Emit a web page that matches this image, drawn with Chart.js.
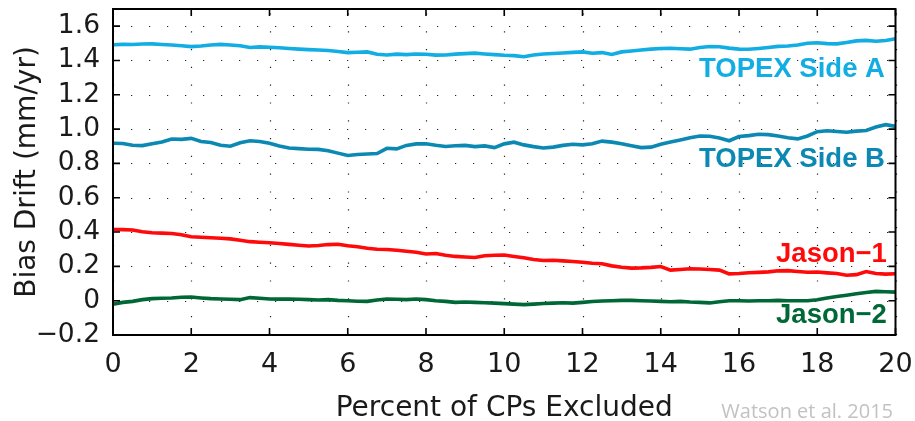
<!DOCTYPE html>
<html>
<head>
<meta charset="utf-8">
<script src="https://cdn.jsdelivr.net/npm/chart.js@4.4.1/dist/chart.umd.min.js"></script>
<style>
  html, body { margin: 0; padding: 0; background: #fff; }
  canvas { display: block; }
</style>
</head>
<body>
<canvas id="c" width="915" height="421"></canvas>
<script>
// Percent of CPs excluded (x values)
const pct = [0,0.25,0.5,0.75,1,1.25,1.5,1.75,2,2.25,2.5,2.75,3,3.25,3.5,3.75,4,4.25,4.5,4.75,
  5,5.25,5.5,5.75,6,6.25,6.5,6.75,7,7.25,7.5,7.75,8,8.25,8.5,8.75,9,9.25,9.5,9.75,
  10,10.25,10.5,10.75,11,11.25,11.5,11.75,12,12.25,12.5,12.75,13,13.25,13.5,13.75,14,14.25,14.5,14.75,
  15,15.25,15.5,15.75,16,16.25,16.5,16.75,17,17.25,17.5,17.75,18,18.25,18.5,18.75,19,19.25,19.5,19.75,20];

const topexA = [1.492,1.494,1.493,1.496,1.497,1.493,1.490,1.486,1.481,1.484,1.490,1.494,1.490,1.486,1.476,1.479,1.477,1.474,1.470,1.466,
  1.463,1.461,1.458,1.452,1.446,1.448,1.450,1.436,1.432,1.437,1.434,1.438,1.436,1.431,1.432,1.437,1.440,1.443,1.438,1.434,
  1.430,1.428,1.422,1.432,1.438,1.441,1.444,1.447,1.450,1.442,1.446,1.435,1.450,1.455,1.461,1.466,1.470,1.471,1.468,1.466,
  1.476,1.481,1.480,1.472,1.466,1.465,1.470,1.476,1.482,1.484,1.490,1.500,1.503,1.498,1.497,1.505,1.514,1.517,1.512,1.516,1.527];

const topexB = [0.918,0.916,0.906,0.904,0.915,0.925,0.942,0.940,0.946,0.928,0.922,0.906,0.900,0.920,0.932,0.928,0.918,0.902,0.890,0.886,
  0.883,0.882,0.874,0.860,0.846,0.852,0.855,0.858,0.888,0.885,0.905,0.914,0.915,0.906,0.899,0.903,0.905,0.898,0.902,0.892,
  0.914,0.924,0.908,0.898,0.890,0.895,0.905,0.912,0.908,0.915,0.930,0.924,0.915,0.903,0.892,0.895,0.912,0.925,0.937,0.950,
  0.960,0.958,0.948,0.932,0.957,0.962,0.970,0.968,0.960,0.950,0.943,0.960,0.985,0.990,0.986,0.982,0.988,0.992,1.012,1.026,1.016];

const jason1 = [0.415,0.414,0.412,0.402,0.396,0.394,0.392,0.384,0.373,0.370,0.367,0.364,0.360,0.352,0.344,0.341,0.338,0.333,0.328,0.323,
  0.319,0.322,0.327,0.329,0.320,0.314,0.306,0.300,0.298,0.294,0.288,0.282,0.272,0.275,0.265,0.258,0.255,0.252,0.262,0.265,
  0.266,0.258,0.250,0.240,0.234,0.236,0.232,0.228,0.224,0.218,0.215,0.203,0.195,0.190,0.191,0.194,0.199,0.178,0.182,0.186,
  0.185,0.182,0.178,0.156,0.158,0.163,0.165,0.168,0.174,0.175,0.170,0.166,0.167,0.162,0.158,0.148,0.152,0.170,0.158,0.155,0.157];

const jason2 = [-0.020,-0.010,-0.004,0.006,0.012,0.014,0.016,0.020,0.021,0.016,0.012,0.010,0.008,0.006,0.018,0.014,0.010,0.009,0.010,0.008,
  0.006,0.004,0.006,0.002,0.000,-0.003,-0.004,0.004,0.010,0.008,0.006,0.010,0.006,0.000,-0.004,-0.010,-0.008,-0.010,-0.012,-0.014,
  -0.017,-0.020,-0.023,-0.020,-0.016,-0.014,-0.012,-0.014,-0.010,-0.005,-0.002,0.000,0.002,0.002,0.000,-0.002,-0.004,-0.006,-0.004,-0.008,
  -0.010,-0.013,-0.006,0.000,0.000,-0.002,0.000,0.000,0.002,0.000,0.000,0.000,0.005,0.016,0.024,0.032,0.040,0.048,0.054,0.052,0.050];

const seriesNames = ['TOPEX Side A', 'TOPEX Side B', 'Jason\u22121', 'Jason\u22122'];
const xTicks = [0,2,4,6,8,10,12,14,16,18,20];
const yTicks = [-0.2,0,0.2,0.4,0.6,0.8,1.0,1.2,1.4,1.6];

const colors = ['#12ade2', '#0b89b2', '#ff0a0a', '#006837'];
// label anchors in data units (right-aligned text, baseline)
const labelAnchors = [[19.73, 1.304], [19.73, 0.779], [19.78, 0.228], [19.78, -0.129]];

function pts(arr) { return arr.map((v, i) => ({x: pct[i], y: v})); }

const framePlugin = {
  id: 'frame',
  beforeDatasetsDraw(chart) {
    const {ctx, chartArea: a, scales: {x, y}} = chart;
    ctx.save();
    ctx.strokeStyle = '#222';
    ctx.lineWidth = 1.2;
    ctx.setLineDash([1.2, 16.6]);
    ctx.beginPath();
    xTicks.forEach(v => { const px = Math.round(x.getPixelForValue(v)) + 0.5; ctx.moveTo(px, a.bottom); ctx.lineTo(px, a.top); });
    ctx.stroke();
    ctx.setLineDash([1.2, 16.8]);
    ctx.beginPath();
    yTicks.forEach(v => { const py = Math.round(y.getPixelForValue(v)) + 0.5; ctx.moveTo(a.left, py); ctx.lineTo(a.right, py); });
    ctx.stroke();
    ctx.restore();
  },
  afterDatasetsDraw(chart) {
    const {ctx, chartArea: a, scales: {x, y}} = chart;
    ctx.save();
    ctx.strokeStyle = '#000';
    ctx.lineWidth = 2;
    ctx.strokeRect(a.left, a.top, a.right - a.left, a.bottom - a.top);
    ctx.lineWidth = 1.6;
    ctx.beginPath();
    xTicks.forEach(v => { const px = x.getPixelForValue(v);
      ctx.moveTo(px, a.bottom); ctx.lineTo(px, a.bottom - 7);
      ctx.moveTo(px, a.top); ctx.lineTo(px, a.top + 7); });
    yTicks.forEach(v => { const py = y.getPixelForValue(v);
      ctx.moveTo(a.left, py); ctx.lineTo(a.left + 7, py);
      ctx.moveTo(a.right, py); ctx.lineTo(a.right - 7, py); });
    ctx.stroke();
    // series labels
    ctx.font = 'bold 27.5px "Liberation Sans", Arial, sans-serif';
    ctx.textAlign = 'right';
    ctx.textBaseline = 'alphabetic';
    seriesNames.forEach((n, i) => {
      ctx.fillStyle = colors[i];
      ctx.fillText(n, x.getPixelForValue(labelAnchors[i][0]), y.getPixelForValue(labelAnchors[i][1]));
    });
    // credit
    ctx.font = '20px "Open Sans", sans-serif';
    ctx.fillStyle = '#c2c2c2';
    ctx.fillText('Watson et al. 2015', 893, 418);
    ctx.restore();
  }
};

new Chart(document.getElementById('c'), {
  type: 'line',
  data: {
    datasets: [topexA, topexB, jason1, jason2].map((arr, i) => ({
      label: seriesNames[i],
      data: pts(arr),
      borderColor: colors[i],
      borderWidth: 3.6,
      pointRadius: 0,
      tension: 0,
      fill: false
    }))
  },
  options: {
    responsive: false,
    animation: false,
    events: [],
    layout: { padding: { top: 9, right: 19.5, left: 0, bottom: 0 } },
    plugins: { legend: { display: false }, tooltip: { enabled: false } },
    scales: {
      x: {
        type: 'linear', min: 0, max: 20,
        afterBuildTicks: s => { s.ticks = xTicks.map(v => ({value: v})); },
        afterFit: s => { s.height = 86; s.paddingLeft = 0; s.paddingRight = 0; },
        grid: { display: false, drawTicks: false },
        border: { display: false },
        ticks: { padding: 14, color: '#1a1a1a', font: { family: '"DejaVu Sans", sans-serif', size: 27 },
                 callback: v => String(v), maxRotation: 0, autoSkip: false },
        title: { display: true, text: 'Percent of CPs Excluded', color: '#1a1a1a',
                 font: { family: '"DejaVu Sans", sans-serif', size: 28, lineHeight: 0.8 }, padding: { top: 0, bottom: 1 } }
      },
      y: {
        type: 'linear', min: -0.2, max: 1.7,
        afterBuildTicks: s => { s.ticks = yTicks.map(v => ({value: v})); },
        afterFit: s => { s.width = 113; s.paddingTop = 0; s.paddingBottom = 0; },
        grid: { display: false, drawTicks: false },
        border: { display: false },
        ticks: { padding: 13, color: '#1a1a1a', font: { family: '"DejaVu Sans", sans-serif', size: 26.5 },
                 callback: v => (Math.abs(v) < 1e-9 ? '0' : v.toFixed(1).replace('-', '\u2212')), autoSkip: false },
        title: { display: true, text: 'Bias Drift (mm/yr)', color: '#1a1a1a',
                 font: { family: '"DejaVu Sans", sans-serif', size: 28, lineHeight: 1.2 }, padding: { top: 11, bottom: 0 } }
      }
    }
  },
  plugins: [framePlugin]
});
</script>
</body>
</html>
